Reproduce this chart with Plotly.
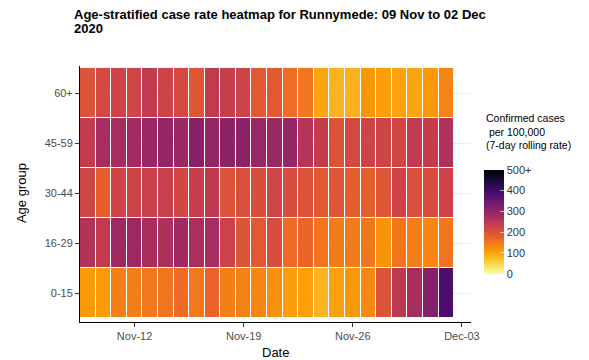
import plotly.graph_objects as go
import pandas as pd

dates = pd.date_range("2020-11-09", "2020-12-02", freq="D").strftime("%Y-%m-%d").tolist()
age_groups = ["0-15", "16-29", "30-44", "45-59", "60+"]

rate_0_15 = [112, 110, 142, 142, 150, 153, 165, 150, 175, 142, 140, 135,
             125, 108, 106, 85, 104, 114, 133, 198, 248, 275, 318, 385]
rate_16_29 = [262, 242, 288, 288, 272, 267, 285, 270, 276, 226, 197, 190,
              208, 167, 174, 153, 146, 147, 151, 120, 153, 144, 132, 153]
rate_30_44 = [220, 182, 222, 224, 230, 232, 218, 237, 245, 200, 205, 208,
              220, 208, 200, 190, 195, 184, 180, 195, 226, 205, 208, 228]
rate_45_59 = [240, 276, 276, 280, 294, 300, 291, 314, 298, 308, 310, 294,
              291, 295, 258, 238, 200, 215, 225, 222, 220, 243, 238, 264]
rate_60p = [200, 215, 225, 220, 243, 225, 215, 195, 243, 235, 228, 190,
            190, 162, 152, 100, 85, 88, 115, 108, 103, 100, 112, 137]

tick_vals = ["2020-11-12", "2020-11-19", "2020-11-26", "2020-12-03"]
tick_text = ["Nov-12", "Nov-19", "Nov-26", "Dec-03"]
cbar_vals = [0, 100, 200, 300, 400, 500]
cbar_text = ["0", "100", "200", "300", "400", "500+"]

z = [rate_0_15, rate_16_29, rate_30_44, rate_45_59, rate_60p]

FONT = "Arial, Liberation Sans, sans-serif"

fig = go.Figure(go.Heatmap(
    x=dates, y=age_groups, z=z,
    colorscale="Inferno", reversescale=True, zmin=0, zmax=500,
    xgap=1, ygap=1,
    colorbar=dict(
        x=1.033, xanchor="left", y=0.392, yanchor="middle", len=0.406,
        thickness=20, outlinewidth=0, xpad=0, ypad=0,
        tickvals=cbar_vals, ticktext=cbar_text,
        ticks="inside", ticklen=4, tickcolor="rgba(255,255,255,0.6)",
        tickfont=dict(family=FONT, size=11, color="#333333"),
    ),
))

# page body adds an 8px offset, so the figure is 8px smaller on each side
fig.update_layout(
    width=581, height=352,
    margin=dict(l=72, r=118, t=58, b=38),
    paper_bgcolor="white", plot_bgcolor="white",
    font=dict(family=FONT, color="#333333"),
    annotations=[
        dict(text="<b>Age-stratified case rate heatmap for Runnymede: 09 Nov to 02 Dec</b>",
             xref="paper", yref="paper", x=-0.0205, y=1.203, xanchor="left", yanchor="middle",
             showarrow=False, font=dict(family=FONT, size=13, color="black")),
        dict(text="<b>2020</b>",
             xref="paper", yref="paper", x=-0.0205, y=1.148, xanchor="left", yanchor="middle",
             showarrow=False, font=dict(family=FONT, size=13, color="black")),
        dict(text="Confirmed cases<br> per 100,000<br>(7-day rolling rate)",
             xref="paper", yref="paper", x=1.033, y=0.83, xanchor="left", yanchor="top",
             align="left", showarrow=False, font=dict(family=FONT, size=10.5, color="black")),
        dict(text="Age group", textangle=-90,
             xref="paper", yref="paper", x=-0.148, y=0.504, xanchor="center", yanchor="middle",
             showarrow=False, font=dict(family=FONT, size=13, color="black")),
        dict(text="Date",
             xref="paper", yref="paper", x=0.499, y=-0.121, xanchor="center", yanchor="middle",
             showarrow=False, font=dict(family=FONT, size=13, color="black")),
    ],
)

fig.update_xaxes(
    type="date", range=["2020-11-08 12:00", "2020-12-03 14:00"],
    tickvals=tick_vals, ticktext=tick_text, automargin=False,
    showgrid=False, zeroline=False,
    showline=True, linecolor="black", linewidth=1,
    ticks="outside", ticklen=4, tickcolor="#333333",
    tickfont=dict(family=FONT, size=11, color="#4d4d4d"),
)
fig.update_yaxes(
    type="category", categoryorder="array", categoryarray=age_groups,
    range=[-0.58, 4.54], automargin=False,
    showgrid=True, gridcolor="#ebebeb", zeroline=False,
    showline=True, linecolor="black", linewidth=1,
    ticks="outside", ticklen=4, tickcolor="#333333",
    tickfont=dict(family=FONT, size=11, color="#4d4d4d"),
)

fig.write_html("out.html")
